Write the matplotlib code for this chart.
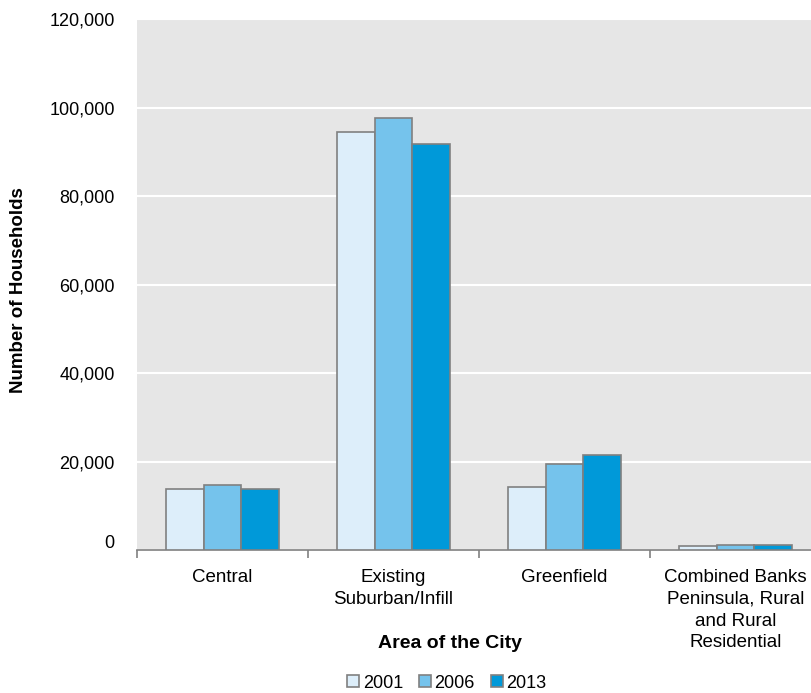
import numpy as np
import matplotlib.pyplot as plt
import matplotlib.transforms as mtransforms
from matplotlib.ticker import FuncFormatter

plt.rcParams['font.family'] = ['Liberation Sans', 'DejaVu Sans']

areas = ['Central', 'Existing\nSuburban/Infill', 'Greenfield',
         'Combined Banks\nPeninsula, Rural\nand Rural\nResidential']
years = ['2001', '2006', '2013']
h2001 = [13900, 94600, 14300, 800]
h2006 = [14800, 97700, 19500, 1100]
h2013 = [13900, 91800, 21600, 1100]
colors = ['#DDEEFA', '#75C3EC', '#0099D9']

fig = plt.figure(figsize=(8.11, 6.93), dpi=100)
ax = fig.add_axes([137/811, 1 - 550/693, 684/811, 530.5/693])
ax.set_facecolor('#E6E6E6')

x = np.arange(len(areas))
w = 0.222
for i, (vals, c, yr) in enumerate(zip([h2001, h2006, h2013], colors, years)):
    ax.bar(x + (i - 1) * w, vals, w, color=c, edgecolor='#808080', linewidth=1.2,
           label=yr, zorder=3)

ax.set_xlim(-0.5, 3.5)
ax.set_ylim(0, 120000)
ax.set_yticks(np.arange(0, 120001, 20000))
ax.yaxis.set_major_formatter(FuncFormatter(lambda v, p: f'{int(v):,}'))
ax.grid(axis='y', color='white', linewidth=1.5, zorder=0)
ax.set_axisbelow(True)

for s in ['top', 'right', 'left']:
    ax.spines[s].set_visible(False)
ax.spines['bottom'].set_color('#808080')
ax.spines['bottom'].set_linewidth(1.2)

ax.tick_params(axis='y', length=0, pad=16, labelsize=13)
# the "0" label sits above the axis line
up = mtransforms.ScaledTranslation(0, 8/100, fig.dpi_scale_trans)
zero = ax.get_yticklabels()[0]
zero.set_transform(zero.get_transform() + up)

ax.set_xticks(x)
ax.set_xticklabels(areas, fontsize=13.5, linespacing=1.35)
ax.tick_params(axis='x', length=0, pad=14)
ax.set_xticks(np.arange(-0.5, 3.6, 1), minor=True)
ax.tick_params(axis='x', which='minor', length=6, color='#808080', width=1.2)

fig.text(19/811, 1 - 290/693, 'Number of Households', rotation=90,
         ha='center', va='center', fontsize=13.5, fontweight='bold')
fig.text(450/811, 1 - 643/693, 'Area of the City', ha='center', va='center',
         fontsize=14, fontweight='bold')

leg = fig.legend(loc='center', bbox_to_anchor=(447/811, 1 - 683/693), ncol=3,
                 frameon=False, fontsize=13, handlelength=0.65, handleheight=0.65,
                 handletextpad=0.2, columnspacing=0.9)

fig.savefig('out.png', dpi=100)
